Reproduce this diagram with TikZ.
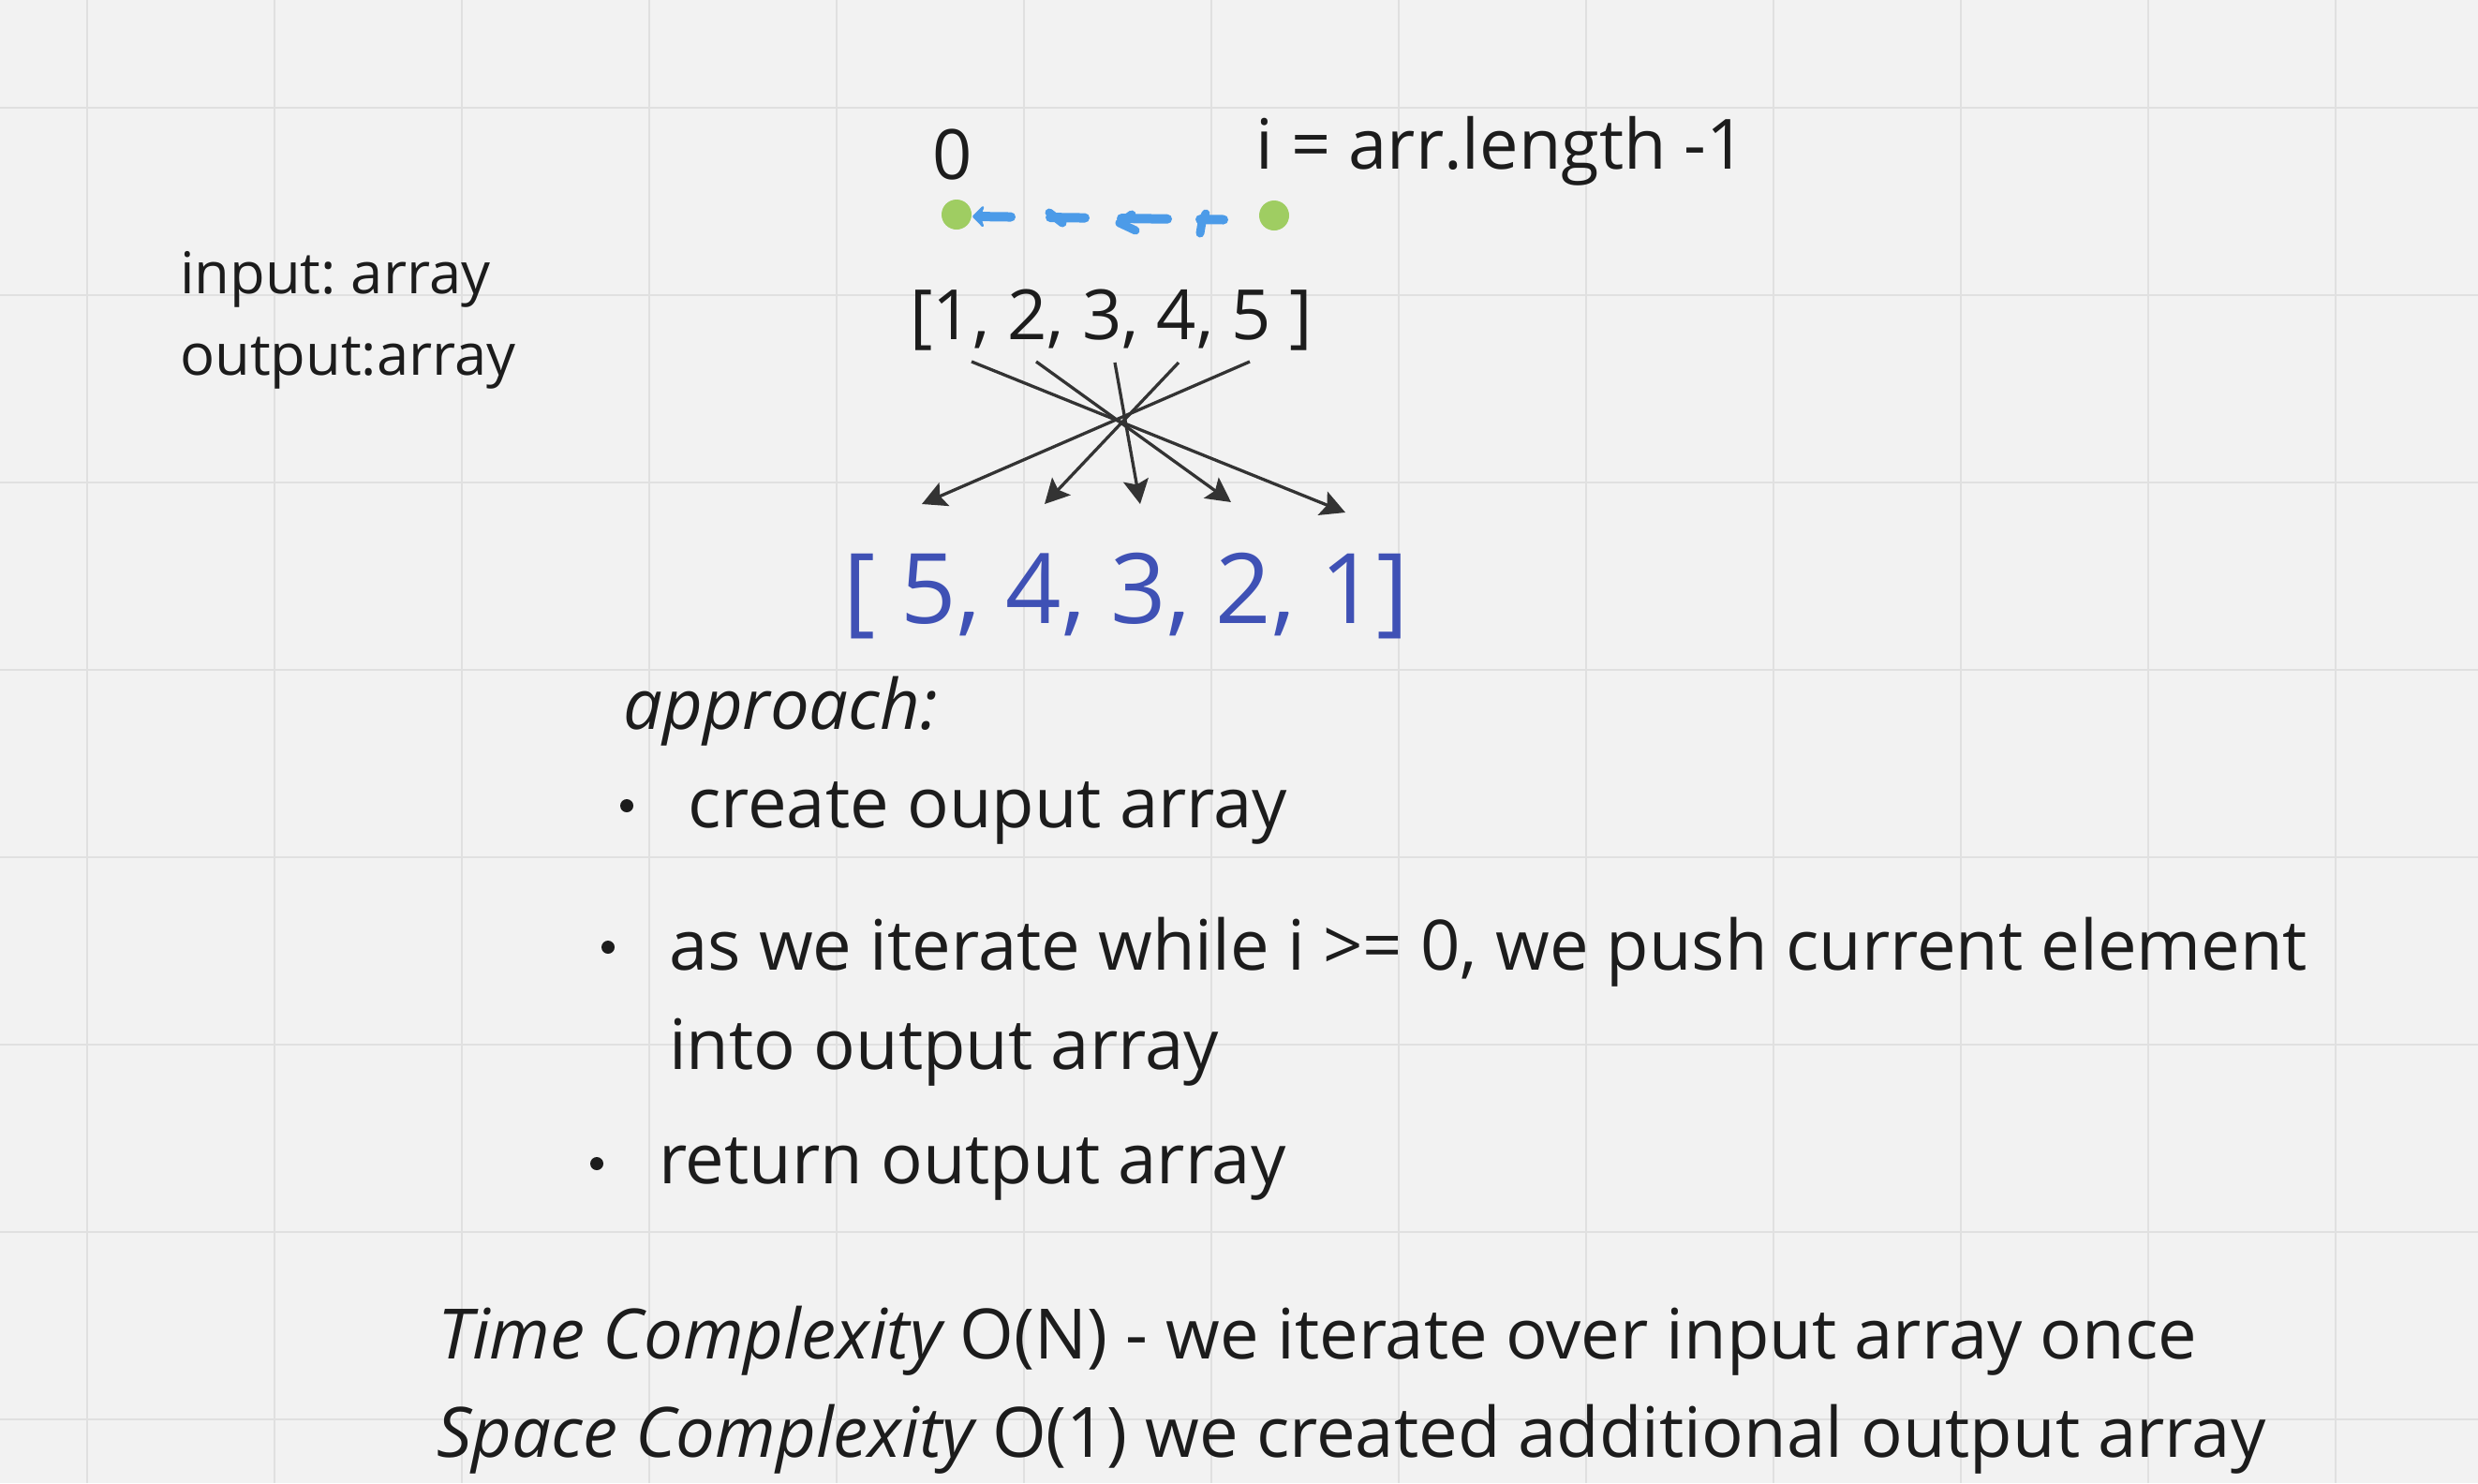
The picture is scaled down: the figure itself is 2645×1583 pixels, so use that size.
\documentclass[tikz,border=0pt]{standalone}
\usepackage{fontspec}
\setmainfont{Open Sans}
\usetikzlibrary{arrows.meta}
\frenchspacing
\definecolor{bg}{HTML}{F2F2F2}
\definecolor{gridc}{HTML}{E0E0E0}
\definecolor{ink}{HTML}{1C1C1C}
\definecolor{arrowc}{HTML}{333333}
\definecolor{bluetxt}{HTML}{3F51B5}
\definecolor{dotgreen}{HTML}{9FCD62}
\definecolor{dashblue}{HTML}{4C9BE8}
\begin{document}
\begin{tikzpicture}[x=1pt,y=-1pt,
  txt/.style={inner sep=0pt, anchor=base west, text=ink},
  ctxt/.style={inner sep=0pt, anchor=base, text=ink},
  bigf/.style={font=\fontsize{74.2}{90}\selectfont},
  lblf/.style={font=\fontsize{74}{88}\selectfont},
  smallf/.style={font=\fontsize{61.5}{75}\selectfont},
  hugef/.style={font=\fontsize{104}{124}\selectfont},
  gdot/.style={circle, fill=dotgreen, inner sep=0pt, minimum size=32pt},
  bul/.style={circle, fill=ink, inner sep=0pt, minimum size=14pt},
  swaparrow/.style={draw=arrowc, line width=3.3pt, -{Stealth[length=26pt,width=27pt,inset=5pt]}},
  walk/.style={draw=dashblue, line width=10pt, line cap=round,
    dash pattern=on 25pt off 35pt on 49pt off 39pt on 37pt off 42pt on 38pt off 42pt,
    dash phase=269pt, -{Stealth[length=14pt,width=28pt,round]}},
  hook/.style={draw=dashblue, line width=9pt, line cap=round, line join=round},
  gridline/.style={draw=gridc, line width=2pt}
]
\useasboundingbox (0,0) rectangle (2645,1583);
\fill[bg] (0,0) rectangle (2645,1583);
% grid
\foreach \k in {0,...,12} \draw[gridline] (93+200*\k,0) -- (93+200*\k,1583);
\foreach \k in {0,...,7} \draw[gridline] (0,115+200*\k) -- (2645,115+200*\k);

% left labels
\node[txt, smallf] (inp) at (192,313) {input: array};
\node[txt, smallf] (outp) at (192,400) {output:array};

% top labels
\node[ctxt, lblf] (zero) at (1017,191) {0};
\node[txt, lblf] (ilen) at (1340,180) {i = arr.length -1};

% dots and walking arrow
\node[gdot] (dotL) at (1021,229) {};
\node[gdot] (dotR) at (1360,230) {};
\coordinate (aR) at (1344,235);
\coordinate (aL) at (1038,231);
\draw[walk] (aR) -- (aL);
% hand-drawn hooks on the dashes
\draw[hook] (1134,238) -- (1120,227);
\draw[hook] (1208,229) -- (1195,238) -- (1212,246);
\draw[hook] (1287,228) -- (1283,237) -- (1281,249);

% input array
\node[ctxt, lblf] (inarr) at (1186,362) {[1, 2, 3, 4, 5 ]};
% output array
\node[ctxt, hugef, text=bluetxt] (outarr) at (1202,665) {[ 5, 4, 3, 2, 1]};

% swap arrows
\coordinate (s1) at (1037,386); \coordinate (e1) at (1436,547);
\coordinate (s2) at (1106,386); \coordinate (e2) at (1314,536);
\coordinate (s3) at (1190,387); \coordinate (e3) at (1217,538);
\coordinate (s4) at (1258,387); \coordinate (e4) at (1115,538);
\coordinate (s5) at (1334,386); \coordinate (e5) at (984,538);
\foreach \i in {1,...,5} \draw[swaparrow] (s\i) -- (e\i);

% approach
\node[txt, bigf] (appr) at (665,778) {\itshape approach:};
\node[bul] (b1) at (669,860) {};
\node[txt, bigf] (t1) at (734,883) {create ouput array};
\node[bul] (b2) at (649,1011) {};
\node[txt, bigf] (t2) at (714,1035) {as we iterate while i >= 0, we push current element};
\node[txt, bigf] (t2b) at (714,1141) {into output array};
\node[bul] (b3) at (637,1242) {};
\node[txt, bigf] (t3) at (703,1263) {return output array};

% complexity
\node[txt, bigf] (tc) at (467,1450) {\itshape Time Complexity\upshape{} O(N) - we iterate over input array once};
\node[txt, bigf] (sc) at (466,1555) {\itshape Space Complexity\upshape{} O(1) we created additional output array};
\end{tikzpicture}
\end{document}
